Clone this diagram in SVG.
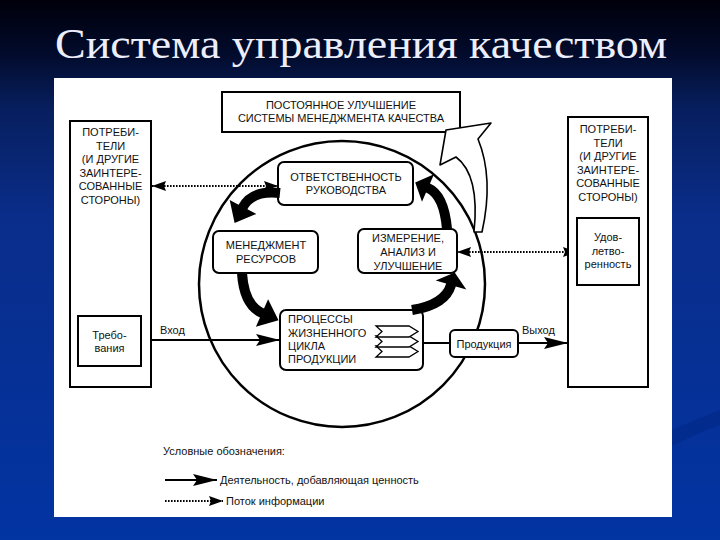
<svg xmlns="http://www.w3.org/2000/svg" width="720" height="540" viewBox="0 0 720 540">
<defs>
<linearGradient id="bg" x1="0" y1="0" x2="0" y2="1">
<stop offset="0" stop-color="#00000a"/>
<stop offset="0.1" stop-color="#020b2c"/>
<stop offset="0.2" stop-color="#071f5e"/>
<stop offset="0.4" stop-color="#0a2d8a"/>
<stop offset="1" stop-color="#0234a2"/>
</linearGradient>
<marker id="ah" markerWidth="24" markerHeight="12" refX="24" refY="6" orient="auto" markerUnits="userSpaceOnUse"><path d="M0,0 L24,6 L0,12 L4,6 z" fill="#000"/></marker>
<marker id="ahd" markerWidth="14" markerHeight="10" refX="14" refY="5" orient="auto-start-reverse" markerUnits="userSpaceOnUse"><path d="M0,0 L14,5 L0,10 L2,5 z" fill="#000"/></marker>
<style>
.box{fill:#fff;stroke:#000;stroke-width:2}
.t{font-family:"Liberation Sans",Arial,sans-serif;font-size:11px;fill:#111;text-anchor:middle}
.tl{font-family:"Liberation Sans",Arial,sans-serif;font-size:11px;fill:#111}
.dot{stroke:#000;stroke-width:2.2;stroke-dasharray:1.6 1.4;fill:none}
.solid{stroke:#000;stroke-width:2;fill:none}
.blk{fill:#000}
</style>
</defs>
<rect x="0" y="0" width="720" height="540" fill="url(#bg)"/>
<path d="M672,430 Q700,418 720,410 L720,425 Q700,432 672,446 Z" fill="#022a88" opacity="0.7"/>
<text x="361" y="58" font-family="Liberation Serif, 'Times New Roman', serif" font-size="43" fill="#eceefc" text-anchor="middle" textLength="612" lengthAdjust="spacingAndGlyphs">Система управления качеством</text>
<rect x="54" y="78" width="618" height="439" fill="#fff"/>

<g id="cycle">
<circle cx="342" cy="284" r="143" fill="none" stroke="#000" stroke-width="2.5"/>
</g>

<g id="connectors">
<line class="solid" x1="141" y1="340" x2="280" y2="340" marker-end="url(#ah)"/>
<line class="solid" x1="423" y1="343" x2="450" y2="343"/>
<line class="solid" x1="518" y1="343" x2="568" y2="343" marker-end="url(#ah)"/>
<line class="dot" x1="152" y1="186" x2="278" y2="186" marker-start="url(#ahd)" marker-end="url(#ahd)"/>
<line class="dot" x1="457" y1="252" x2="577" y2="252" marker-start="url(#ahd)" marker-end="url(#ahd)"/>
<text class="tl" x="160" y="334" font-size="10.5">Вход</text>
<text class="tl" x="522" y="334" font-size="10.5">Выход</text>
</g>

<g id="consumers-left">
<rect class="box" x="70" y="121" width="81" height="266"/>
<text class="t" x="110.5" y="136">ПОТРЕБИ-</text>
<text class="t" x="110.5" y="150">ТЕЛИ</text>
<text class="t" x="110.5" y="163">(И ДРУГИЕ</text>
<text class="t" x="110.5" y="177">ЗАИНТЕРЕ-</text>
<text class="t" x="110.5" y="190">СОВАННЫЕ</text>
<text class="t" x="110.5" y="204">СТОРОНЫ)</text>
</g>
<g id="requirements">
<rect class="box" x="78" y="316" width="63" height="50"/>
<text class="t" x="109.5" y="339">Требо-</text>
<text class="t" x="109.5" y="352">вания</text>
</g>

<g id="consumers-right">
<rect class="box" x="568" y="117" width="80" height="270"/>
<text class="t" x="608" y="133">ПОТРЕБИ-</text>
<text class="t" x="608" y="147">ТЕЛИ</text>
<text class="t" x="608" y="160">(И ДРУГИЕ</text>
<text class="t" x="608" y="174">ЗАИНТЕРЕ-</text>
<text class="t" x="608" y="187">СОВАННЫЕ</text>
<text class="t" x="608" y="201">СТОРОНЫ)</text>
</g>
<g id="satisfaction">
<rect class="box" x="577" y="218" width="62" height="67"/>
<text class="t" x="608" y="241" font-size="10">Удов-</text>
<text class="t" x="608" y="255" font-size="10">летво-</text>
<text class="t" x="608" y="268" font-size="10">ренность</text>
</g>

<g id="improvement">
<rect class="box" x="222" y="92" width="238" height="40"/>
<text class="t" x="341" y="109">ПОСТОЯННОЕ УЛУЧШЕНИЕ</text>
<text class="t" x="341" y="122">СИСТЕМЫ МЕНЕДЖМЕНТА КАЧЕСТВА</text>
</g>

<g id="responsibility">
<rect class="box" x="278" y="162" width="135" height="43" rx="6"/>
<text class="t" x="346" y="181">ОТВЕТСТВЕННОСТЬ</text>
<text class="t" x="346" y="194">РУКОВОДСТВА</text>
</g>

<g id="resources">
<rect class="box" x="213" y="231" width="105" height="42" rx="6"/>
<text class="t" x="266" y="249">МЕНЕДЖМЕНТ</text>
<text class="t" x="266" y="263">РЕСУРСОВ</text>
</g>

<g id="measurement">
<rect class="box" x="358" y="229" width="99" height="44" rx="6"/>
<text class="t" x="408" y="242">ИЗМЕРЕНИЕ,</text>
<text class="t" x="408" y="256">АНАЛИЗ И</text>
<text class="t" x="408" y="270">УЛУЧШЕНИЕ</text>
</g>

<g id="processes">
<rect class="box" x="280" y="310" width="143" height="60" rx="6"/>
<text class="tl" x="288" y="323">ПРОЦЕССЫ</text>
<text class="tl" x="288" y="337">ЖИЗНЕННОГО</text>
<text class="tl" x="288" y="350">ЦИКЛА</text>
<text class="tl" x="288" y="363">ПРОДУКЦИИ</text>
<g fill="#fff" stroke="#000" stroke-width="1.3">
<path d="M376,346 h33 l9,5.5 l-9,5.5 h-33 l6,-5.5 z"/>
<path d="M376,336 h33 l9,5.5 l-9,5.5 h-33 l6,-5.5 z"/>
<path d="M376,326 h33 l9,5.5 l-9,5.5 h-33 l6,-5.5 z"/>
</g>
</g>

<g id="product">
<rect class="box" x="450" y="330" width="68" height="27" rx="5"/>
<text class="t" x="484" y="347.5" font-size="10.5">Продукция</text>
</g>

<g id="flow-arrows">
<path class="blk" d="M280.5,188 Q249.2,184.7 238.6,204.7 L229.7,200 L234.6,222.9 L256.3,214 L247.4,209.3 Q254.8,195.3 279.5,198 Z"/>
<path class="blk" d="M237,273.3 Q239.2,308.3 260,317.6 L255.9,326.7 L278.5,320.3 L268.1,299.3 L264,308.4 Q248.8,301.7 247,272.7 Z"/>
<path class="blk" d="M412.8,314.9 Q448.9,309.5 455.8,286.4 L466.3,289.6 L454.7,272.5 L435.7,280.4 L446.2,283.6 Q441.1,300.5 411.2,305.1 Z"/>
<path class="blk" d="M452,228.6 Q448.7,191.6 430,183.4 L434,174.3 L415.2,182.4 L422,201.7 L426,192.6 Q439.3,198.4 442,229.4 Z"/>
<path d="M446,130 L491,123 L478,139 Q494,178 482,232 L474,232 Q480,175 456,157 L440,165 Z" fill="#fff" stroke="#000" stroke-width="1.6" stroke-linejoin="round"/>
</g>

<g id="legend">
<text class="tl" x="163" y="455" font-size="10.5">Условные обозначения:</text>
<line class="solid" x1="165" y1="480" x2="217" y2="480" marker-end="url(#ah)"/>
<text class="tl" x="220" y="484" font-size="10.5">Деятельность, добавляющая ценность</text>
<line class="dot" x1="165" y1="501" x2="223" y2="501" marker-end="url(#ahd)"/>
<text class="tl" x="226" y="505" font-size="10.5">Поток информации</text>
</g>
</svg>
